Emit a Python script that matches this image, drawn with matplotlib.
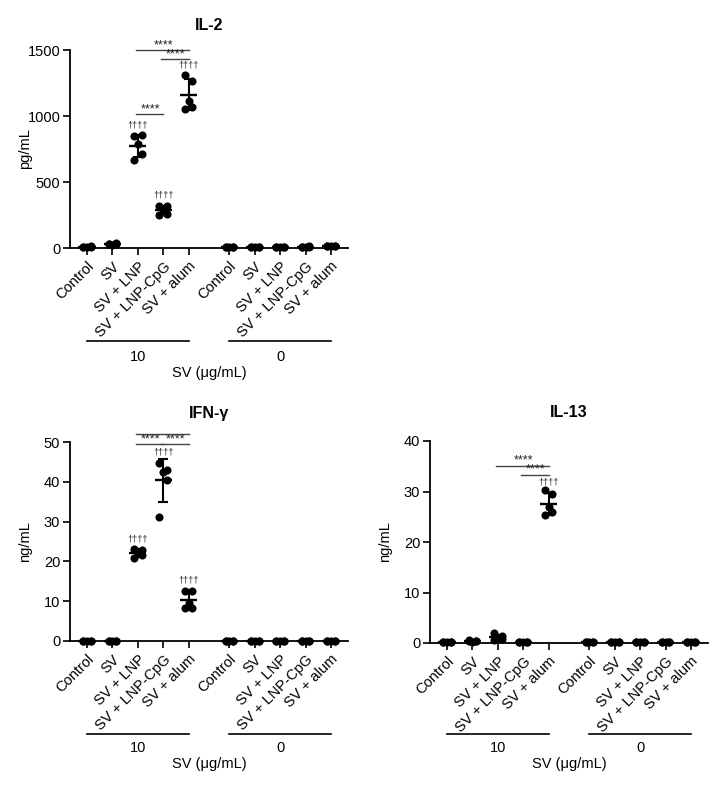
import numpy as np
import matplotlib
matplotlib.use("Agg")
import matplotlib.pyplot as plt
from matplotlib.transforms import blended_transform_factory, offset_copy

plt.rcParams['font.family'] = ['Liberation Sans', 'DejaVu Sans']

# ---------------- data ----------------
categories = ["Control", "SV", "SV + LNP", "SV + LNP-CpG", "SV + alum"]
dose_groups = ["10", "0"]

# IL-2 (pg/mL)
il2_dose10 = [
    [8, 10, 6, 12, 9],
    [28, 35, 25, 32, 30],
    [850, 855, 790, 710, 670],
    [320, 315, 290, 260, 250],
    [1310, 1265, 1115, 1065, 1055],
]
il2_dose0 = [
    [5, 6, 4, 7, 5],
    [5, 7, 4, 6, 5],
    [6, 5, 7, 4, 6],
    [10, 12, 8, 11, 9],
    [15, 18, 12, 16, 14],
]

# IFN-gamma (ng/mL)
ifn_dose10 = [
    [0.1, 0.1, 0.1, 0.1, 0.1],
    [0.1, 0.1, 0.1, 0.1, 0.1],
    [23.2, 22.8, 22.0, 21.5, 20.8],
    [44.8, 43.0, 42.5, 40.5, 31.1],
    [12.6, 12.6, 9.6, 8.2, 8.2],
]
ifn_dose0 = [
    [0.1, 0.1, 0.1, 0.1, 0.1],
    [0.1, 0.1, 0.1, 0.1, 0.1],
    [0.1, 0.1, 0.1, 0.1, 0.1],
    [0.1, 0.1, 0.1, 0.1, 0.1],
    [0.1, 0.1, 0.1, 0.1, 0.1],
]

# IL-13 (ng/mL)
il13_dose10 = [
    [0.1, 0.1, 0.1, 0.1, 0.1],
    [0.3, 0.4, 0.2, 0.3, 0.5],
    [1.9, 1.3, 1.0, 0.8, 0.6],
    [0.1, 0.1, 0.1, 0.1, 0.1],
    [30.2, 29.5, 27.0, 26.0, 25.3],
]
il13_dose0 = [
    [0.1, 0.1, 0.1, 0.1, 0.1],
    [0.1, 0.1, 0.1, 0.1, 0.1],
    [0.1, 0.1, 0.1, 0.1, 0.1],
    [0.1, 0.1, 0.1, 0.1, 0.1],
    [0.1, 0.1, 0.1, 0.1, 0.1],
]

# significance annotations: (from category index, to category index, level, text)
il2_brackets = [(2, 4, 1500, "****"), (3, 4, 1432, "****"), (2, 3, 1015, "****")]
il2_daggers = [(2, 930), (3, 400), (4, 1387)]
ifn_brackets = [(2, 4, 51.9, "****"), (2, 3, 49.4, "****"), (3, 4, 49.4, "****")]
ifn_daggers = [(3, 47.6), (2, 25.6), (4, 15.3)]
il13_brackets = [(2, 4, 35.1, "****"), (3, 4, 33.3, "****")]
il13_daggers = [(4, 31.8)]

# ---------------- layout ----------------
W, H = 727, 785
fig = plt.figure(figsize=(W / 100, H / 100), dpi=100)

def axes_px(left, top, right, bottom):
    return fig.add_axes([left / W, 1 - bottom / H, (right - left) / W, (bottom - top) / H])

gap = 1.6
positions = [i for i in range(5)] + [4 + gap + i for i in range(5)]
jitter = [-0.15, 0.15, 0.0, 0.15, -0.15]

def panel(ax, d10, d0, ymax, ystep, title, ylabel, brackets, daggers,
          title_off, line_off, num_off, xl_off):
    groups = d10 + d0
    for x, vals in zip(positions, groups):
        vals = np.asarray(vals, float)
        m = vals.mean()
        sd = vals.std(ddof=1)
        ax.scatter(x + np.array(jitter), vals, s=34, color='black', zorder=3, clip_on=False, linewidths=0)
        ax.plot([x - 0.34, x + 0.34], [m, m], color='black', lw=1.7, zorder=4, clip_on=False, solid_capstyle='butt')
        ax.plot([x, x], [m - sd, m + sd], color='black', lw=1.5, zorder=4, clip_on=False)
        for yy in (m - sd, m + sd):
            ax.plot([x - 0.2, x + 0.2], [yy, yy], color='black', lw=1.5, zorder=4, clip_on=False, solid_capstyle='butt')
    ax.set_xlim(-0.67, positions[-1] + 0.67)
    ax.set_ylim(0, ymax)
    ax.set_yticks(np.arange(0, ymax + ystep / 2, ystep))
    ax.set_xticks(positions)
    ax.set_xticklabels(categories * 2, rotation=45, ha='right', rotation_mode='anchor', fontsize=10.5)
    ax.tick_params(axis='y', labelsize=10.5, length=5, width=1.2, direction='out', pad=2)
    ax.tick_params(axis='x', length=5, width=1.2, direction='out', pad=3)
    for s in ('top', 'right'):
        ax.spines[s].set_visible(False)
    for s in ('left', 'bottom'):
        ax.spines[s].set_linewidth(1.3)
    # title and y label
    ax.annotate(title, xy=(0.5, 1), xycoords='axes fraction', xytext=(0, title_off),
                textcoords='offset pixels', ha='center', va='center', fontsize=11.5, fontweight='bold')
    ax.annotate(ylabel, xy=(0, 0.5), xycoords='axes fraction', xytext=(-45, 0),
                textcoords='offset pixels', ha='center', va='center', rotation=90, fontsize=10.5)
    # significance brackets
    for i1, i2, lvl, txt in brackets:
        x1, x2 = positions[i1], positions[i2]
        ax.plot([x1 - 0.08, x2], [lvl, lvl], color='#444444', lw=1.0, clip_on=False)
        ax.annotate(txt, xy=((x1 + x2) / 2, lvl), xycoords='data', xytext=(0, 5),
                    textcoords='offset pixels', ha='center', va='center', fontsize=9, color='#222222')
    for i, lvl in daggers:
        ax.text(positions[i], lvl, "\u2020\u2020\u2020\u2020", ha='center', va='center', fontsize=6.5,
                color='#222222', clip_on=False)
    # dose group lines
    tr = blended_transform_factory(ax.transData, ax.transAxes)
    for gi, lab in enumerate(dose_groups):
        xa, xb = positions[gi * 5], positions[gi * 5 + 4]
        ax.plot([xa, xb], [0, 0], color='black', lw=1.2, clip_on=False,
                transform=offset_copy(tr, fig=fig, y=-line_off, units='dots'))
        ax.text((xa + xb) / 2, 0, lab, ha='center', va='center', fontsize=10.5,
                transform=offset_copy(tr, fig=fig, y=-num_off, units='dots'))
    ax.annotate("SV (\u03bcg/mL)", xy=(0.5, 0), xycoords='axes fraction', xytext=(0, -xl_off),
                textcoords='offset pixels', ha='center', va='center', fontsize=10.5)

ax1 = axes_px(70, 50, 348, 248)
panel(ax1, il2_dose10, il2_dose0, 1500, 500, "IL-2", "pg/mL", il2_brackets, il2_daggers,
      25, 93, 109, 125)

ax2 = axes_px(70, 442, 348, 641)
panel(ax2, ifn_dose10, ifn_dose0, 50, 10, "IFN-\u03b3", "ng/mL", ifn_brackets, ifn_daggers,
      29, 93, 107, 123)

ax3 = axes_px(430, 441, 708, 643)
panel(ax3, il13_dose10, il13_dose0, 40, 10, "IL-13", "ng/mL", il13_brackets, il13_daggers,
      29, 91, 105, 121)

fig.savefig("out.png", dpi=100)
